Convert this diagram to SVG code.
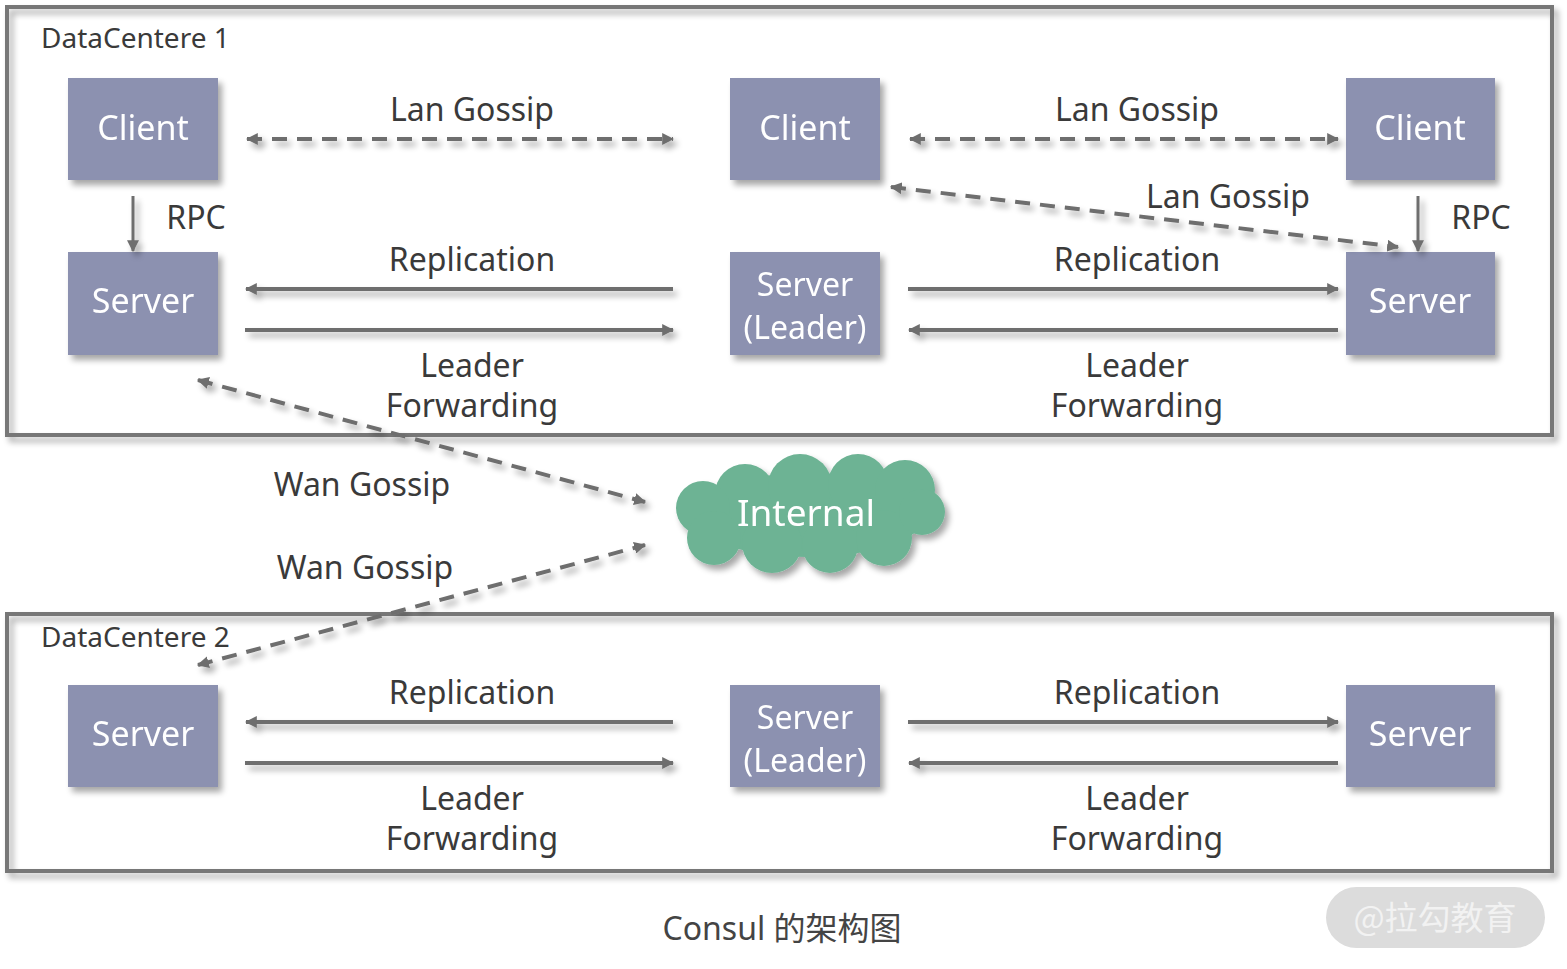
<svg xmlns="http://www.w3.org/2000/svg" width="1567" height="969" viewBox="0 0 1567 969">
<style>
.frame{fill:none;stroke:#777;stroke-width:4}
.node rect{fill:#8c91b0}
.nt{font-family:"Noto Sans","DejaVu Sans",sans-serif;font-size:34px;fill:#fff;text-anchor:middle}
.nt2{font-family:"Noto Sans","DejaVu Sans",sans-serif;font-size:32px;fill:#fff;text-anchor:middle}
.lbl{font-family:"Noto Sans","DejaVu Sans",sans-serif;font-size:32px;fill:#3a3a3a;text-anchor:middle}
.dc{font-family:"Noto Sans","DejaVu Sans",sans-serif;font-size:28px;fill:#3a3a3a}
.ln{stroke:#6e6e6e;stroke-width:4;fill:none}
.dash{stroke-dasharray:15 10}
.thin{stroke-width:3}
</style>
<defs>
<filter id="sh" x="-20%" y="-20%" width="150%" height="150%">
<feGaussianBlur in="SourceAlpha" stdDeviation="3"/>
<feOffset dx="4" dy="5" result="b"/>
<feComponentTransfer><feFuncA type="linear" slope="0.35"/></feComponentTransfer>
<feMerge><feMergeNode/><feMergeNode in="SourceGraphic"/></feMerge>
</filter>
<marker id="ae" viewBox="0 0 10 10" refX="9" refY="5" markerWidth="12" markerHeight="12" markerUnits="userSpaceOnUse" orient="auto"><path d="M0,0 L10,5 L0,10 z" fill="#6e6e6e"/></marker>
<marker id="as" viewBox="0 0 10 10" refX="1" refY="5" markerWidth="12" markerHeight="12" markerUnits="userSpaceOnUse" orient="auto"><path d="M10,0 L0,5 L10,10 z" fill="#6e6e6e"/></marker>
</defs>
<rect width="1567" height="969" fill="#fff"/>

<g id="dc1" filter="url(#sh)">
<rect class="frame" x="7" y="7" width="1545" height="428"/>
</g>
<g id="dc2" filter="url(#sh)">
<rect class="frame" x="7" y="614" width="1545" height="257"/>
</g>
<text class="dc" x="41" y="48">DataCentere 1</text>
<text class="dc" x="41" y="647">DataCentere 2</text>

<g id="client1" class="node" filter="url(#sh)"><rect x="68" y="78" width="150" height="102"/><text class="nt" x="143" y="140">Client</text></g>
<g id="server1" class="node" filter="url(#sh)"><rect x="68" y="252" width="150" height="103"/><text class="nt" x="143" y="313">Server</text></g>
<g id="client2" class="node" filter="url(#sh)"><rect x="730" y="78" width="150" height="102"/><text class="nt" x="805" y="140">Client</text></g>
<g id="leader1" class="node" filter="url(#sh)"><rect x="730" y="252" width="150" height="103"/><text class="nt2" x="805" y="296">Server</text><text class="nt2" x="805" y="339">(Leader)</text></g>
<g id="client3" class="node" filter="url(#sh)"><rect x="1346" y="78" width="149" height="102"/><text class="nt" x="1420" y="140">Client</text></g>
<g id="server3" class="node" filter="url(#sh)"><rect x="1346" y="252" width="149" height="103"/><text class="nt" x="1420" y="313">Server</text></g>

<g id="server4" class="node" filter="url(#sh)"><rect x="68" y="685" width="150" height="102"/><text class="nt" x="143" y="746">Server</text></g>
<g id="leader2" class="node" filter="url(#sh)"><rect x="730" y="685" width="150" height="102"/><text class="nt2" x="805" y="729">Server</text><text class="nt2" x="805" y="772">(Leader)</text></g>
<g id="server6" class="node" filter="url(#sh)"><rect x="1346" y="685" width="149" height="102"/><text class="nt" x="1420" y="746">Server</text></g>

<g id="internal" filter="url(#sh)" fill="#6db394">
<ellipse cx="808" cy="515" rx="118" ry="42"/>
<circle cx="745" cy="494" r="30"/>
<circle cx="800" cy="486" r="32"/>
<circle cx="858" cy="484" r="30"/>
<circle cx="905" cy="490" r="30"/>
<circle cx="703" cy="508" r="27"/>
<circle cx="714" cy="538" r="27"/>
<circle cx="772" cy="543" r="30"/>
<circle cx="830" cy="545" r="28"/>
<circle cx="884" cy="538" r="28"/>
<circle cx="922" cy="512" r="23"/>
<text x="806" y="526" font-family="Noto Sans, DejaVu Sans, sans-serif" font-size="37" fill="#fff" text-anchor="middle">Internal</text>
</g>

<g id="connectors" filter="url(#sh)">
<line class="ln dash" x1="247" y1="139" x2="673" y2="139" marker-start="url(#as)" marker-end="url(#ae)"/>
<line class="ln dash" x1="910" y1="139" x2="1338" y2="139" marker-start="url(#as)" marker-end="url(#ae)"/>
<line class="ln dash" x1="891" y1="187" x2="1398" y2="247" marker-start="url(#as)" marker-end="url(#ae)"/>
<line class="ln thin" x1="133" y1="196" x2="133" y2="251" marker-end="url(#ae)"/>
<line class="ln thin" x1="1418" y1="196" x2="1418" y2="251" marker-end="url(#ae)"/>
<line class="ln" x1="673" y1="289" x2="246" y2="289" marker-end="url(#ae)"/>
<line class="ln" x1="245" y1="330" x2="673" y2="330" marker-end="url(#ae)"/>
<line class="ln" x1="908" y1="289" x2="1338" y2="289" marker-end="url(#ae)"/>
<line class="ln" x1="1338" y1="330" x2="909" y2="330" marker-end="url(#ae)"/>
<line class="ln" x1="673" y1="722" x2="246" y2="722" marker-end="url(#ae)"/>
<line class="ln" x1="245" y1="763" x2="673" y2="763" marker-end="url(#ae)"/>
<line class="ln" x1="908" y1="722" x2="1338" y2="722" marker-end="url(#ae)"/>
<line class="ln" x1="1338" y1="763" x2="909" y2="763" marker-end="url(#ae)"/>
<line class="ln dash" x1="198" y1="380" x2="645" y2="502" marker-start="url(#as)" marker-end="url(#ae)"/>
<line class="ln dash" x1="198" y1="665" x2="645" y2="545" marker-start="url(#as)" marker-end="url(#ae)"/>
</g>

<g id="labels">
<text class="lbl" x="472" y="121">Lan Gossip</text>
<text class="lbl" x="1137" y="121">Lan Gossip</text>
<text class="lbl" x="1228" y="208">Lan Gossip</text>
<text class="lbl" x="196" y="229">RPC</text>
<text class="lbl" x="1481" y="229">RPC</text>
<text class="lbl" x="472" y="271">Replication</text>
<text class="lbl" x="1137" y="271">Replication</text>
<text class="lbl" x="472" y="377">Leader</text>
<text class="lbl" x="472" y="417">Forwarding</text>
<text class="lbl" x="1137" y="377">Leader</text>
<text class="lbl" x="1137" y="417">Forwarding</text>
<text class="lbl" x="362" y="496">Wan Gossip</text>
<text class="lbl" x="365" y="579">Wan Gossip</text>
<text class="lbl" x="472" y="704">Replication</text>
<text class="lbl" x="1137" y="704">Replication</text>
<text class="lbl" x="472" y="810">Leader</text>
<text class="lbl" x="472" y="850">Forwarding</text>
<text class="lbl" x="1137" y="810">Leader</text>
<text class="lbl" x="1137" y="850">Forwarding</text>
</g>

<text x="782" y="940" font-family="Noto Sans, Noto Sans CJK SC, sans-serif" font-size="32" fill="#444" text-anchor="middle">Consul 的架构图</text>
<g id="watermark">
<rect x="1326" y="887" width="219" height="61" rx="30.5" fill="#dcdcdc"/>
<text x="1435" y="930" font-family="Noto Sans CJK SC, sans-serif" font-size="33" fill="#f2f2f2" text-anchor="middle">@拉勾教育</text>
</g>
</svg>
